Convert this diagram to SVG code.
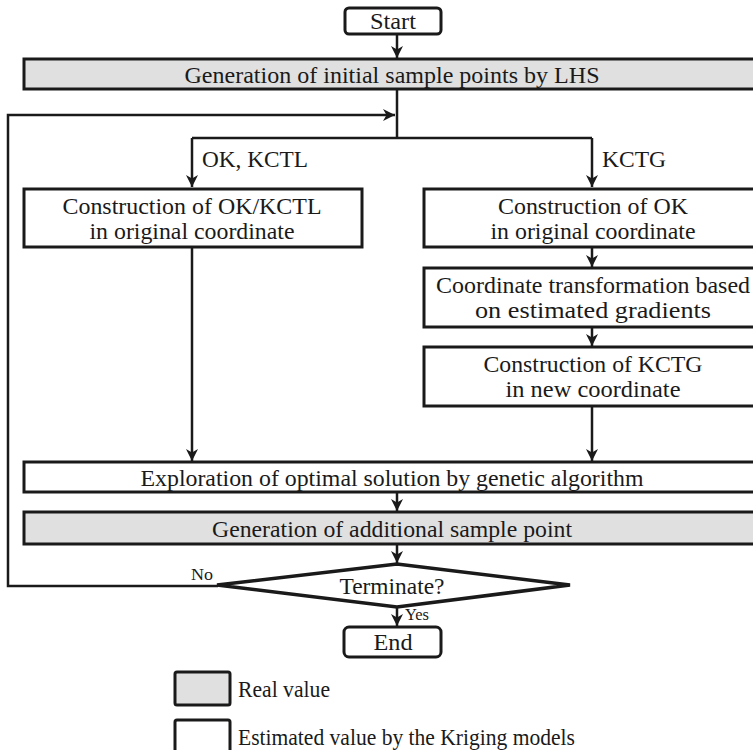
<svg xmlns="http://www.w3.org/2000/svg" width="753" height="750" viewBox="0 0 753 750">
<style>
.box{fill:#fff;stroke:#1a1a1a;stroke-width:3}
.real{fill:#e0e0e0;stroke:#1a1a1a;stroke-width:3}
.t{font-family:"Liberation Serif","Times New Roman",serif;font-size:24px;fill:#1a1a1a;text-anchor:middle}
.tl{font-family:"Liberation Serif","Times New Roman",serif;font-size:24px;fill:#1a1a1a}
.sm{font-family:"Liberation Serif","Times New Roman",serif;font-size:17px;fill:#1a1a1a}
.c{fill:none;stroke:#1a1a1a;stroke-width:2.5}
</style>
<defs>
<marker id="ah" viewBox="0 0 12 12" refX="12" refY="6" markerWidth="12" markerHeight="12" markerUnits="userSpaceOnUse" orient="auto">
<path d="M0,0 L12,6 L0,12 L3.5,6 z" fill="#1a1a1a"/>
</marker>
</defs>
<rect width="753" height="750" fill="#fff"/>
<g id="connectors">
<path class="c" d="M397,33 V58" marker-end="url(#ah)"/>
<path class="c" d="M397,88 V138"/>
<path class="c" d="M192,138 H592"/>
<path class="c" d="M192,138 V187" marker-end="url(#ah)"/>
<path class="c" d="M592,138 V187" marker-end="url(#ah)"/>
<path class="c" d="M592,247 V267" marker-end="url(#ah)"/>
<path class="c" d="M592,327 V346" marker-end="url(#ah)"/>
<path class="c" d="M192,247 V461" marker-end="url(#ah)"/>
<path class="c" d="M592,406 V461" marker-end="url(#ah)"/>
<path class="c" d="M397,492 V511" marker-end="url(#ah)"/>
<path class="c" d="M397,544 V563" marker-end="url(#ah)"/>
<path class="c" d="M397,608 V626" marker-end="url(#ah)"/>
<path class="c" d="M218,586 H8 V115 H395" marker-end="url(#ah)"/>
<text class="tl" x="202" y="167" textLength="106" lengthAdjust="spacingAndGlyphs">OK, KCTL</text>
<text class="tl" x="602" y="167" textLength="64" lengthAdjust="spacingAndGlyphs">KCTG</text>
<text class="sm" x="191" y="580" textLength="22" lengthAdjust="spacingAndGlyphs">No</text>
<text class="sm" x="405" y="620" textLength="24" lengthAdjust="spacingAndGlyphs">Yes</text>
</g>
<g id="start">
<rect class="box" x="345" y="8" width="96" height="26" rx="4"/>
<text class="t" x="393" y="29" textLength="46" lengthAdjust="spacingAndGlyphs">Start</text>
</g>
<g id="lhs">
<rect class="real" x="24" y="59" width="740" height="30"/>
<text class="t" x="392" y="83" textLength="415" lengthAdjust="spacingAndGlyphs">Generation of initial sample points by LHS</text>
</g>
<g id="ok-kctl">
<rect class="box" x="24" y="189" width="338" height="58"/>
<text class="t" x="192" y="214" textLength="259" lengthAdjust="spacingAndGlyphs">Construction of OK/KCTL</text>
<text class="t" x="192" y="239" textLength="205" lengthAdjust="spacingAndGlyphs">in original coordinate</text>
</g>
<g id="ok">
<rect class="box" x="424" y="189" width="340" height="58"/>
<text class="t" x="593" y="214" textLength="190" lengthAdjust="spacingAndGlyphs">Construction of OK</text>
<text class="t" x="593" y="239" textLength="205" lengthAdjust="spacingAndGlyphs">in original coordinate</text>
</g>
<g id="transform">
<rect class="box" x="424" y="268" width="340" height="59"/>
<text class="t" x="593" y="293" textLength="314" lengthAdjust="spacingAndGlyphs">Coordinate transformation based</text>
<text class="t" x="593" y="318" textLength="236" lengthAdjust="spacingAndGlyphs">on estimated gradients</text>
</g>
<g id="kctg">
<rect class="box" x="424" y="347" width="340" height="59"/>
<text class="t" x="593" y="372" textLength="219" lengthAdjust="spacingAndGlyphs">Construction of KCTG</text>
<text class="t" x="593" y="397" textLength="175" lengthAdjust="spacingAndGlyphs">in new coordinate</text>
</g>
<g id="explore">
<rect class="box" x="24" y="462" width="740" height="30"/>
<text class="t" x="392" y="486" textLength="503" lengthAdjust="spacingAndGlyphs">Exploration of optimal solution by genetic algorithm</text>
</g>
<g id="additional">
<rect class="real" x="24" y="512" width="740" height="32"/>
<text class="t" x="392" y="537" textLength="360" lengthAdjust="spacingAndGlyphs">Generation of additional sample point</text>
</g>
<g id="terminate">
<polygon class="box" style="stroke-width:3.5" points="217,585 397,564 570,585 397,607"/>
<text class="t" x="392" y="594" textLength="105" lengthAdjust="spacingAndGlyphs">Terminate?</text>
</g>
<g id="end">
<rect class="box" x="344" y="627" width="97" height="30" rx="5"/>
<text class="t" x="393" y="650" textLength="39" lengthAdjust="spacingAndGlyphs">End</text>
</g>
<g id="legend-real">
<rect class="real" x="175" y="672" width="55" height="33" rx="2"/>
<text class="tl" x="238" y="697" textLength="92" lengthAdjust="spacingAndGlyphs">Real value</text>
</g>
<g id="legend-est">
<rect class="box" x="175" y="720" width="55" height="33" rx="2"/>
<text class="tl" x="238" y="745" textLength="337" lengthAdjust="spacingAndGlyphs">Estimated value by the Kriging models</text>
</g>
</svg>
